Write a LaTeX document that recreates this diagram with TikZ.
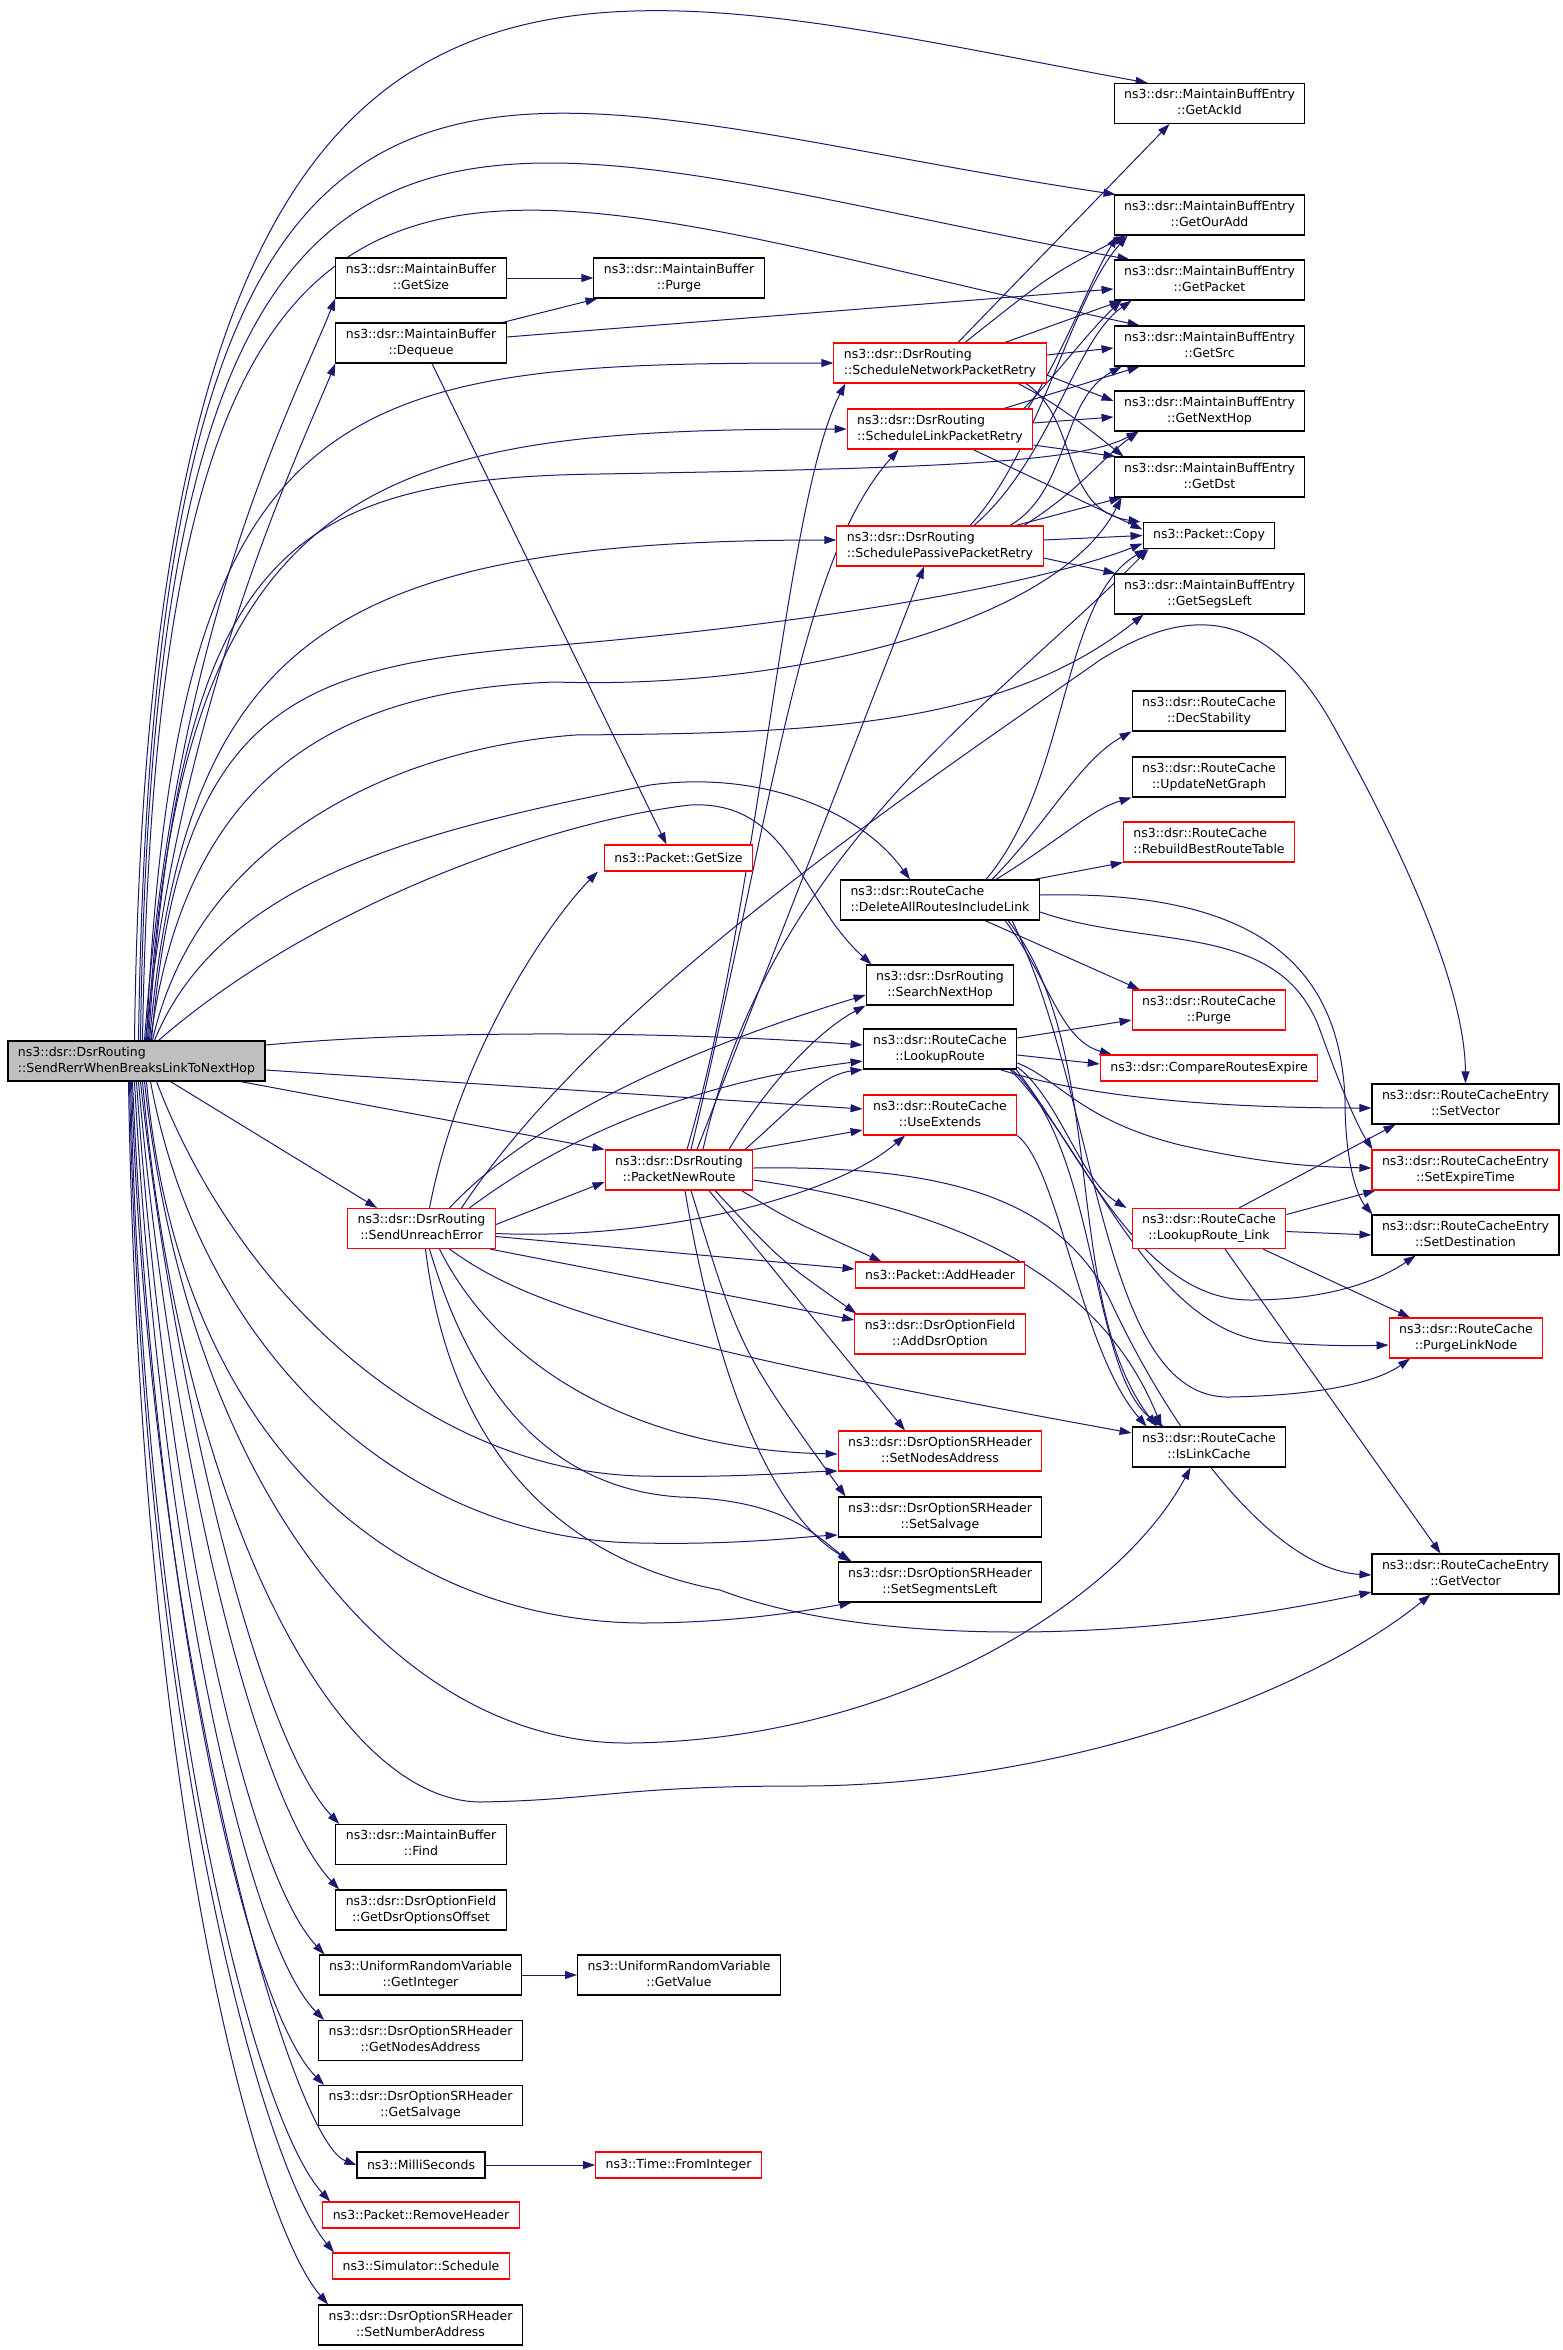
\documentclass[tikz,border=0pt]{standalone}
\usepackage{fontspec}
\setmainfont{DejaVu Sans}
\usepackage{tikz}
\usetikzlibrary{arrows.meta,backgrounds}
\definecolor{edgeblue}{RGB}{25,25,112}
\newcommand{\fnname}[2]{\begin{tabular}{@{}l@{}}#1\\\multicolumn{1}{@{}c@{}}{#2}\end{tabular}}
\tikzset{
  fn/.style={draw=black,fill=white,line width=1.1pt,inner xsep=10pt,inner ysep=4pt,
    minimum height=26pt,font=\fontsize{12.5}{16}\selectfont},
  fnred/.style={fn,draw=red},
  fnmain/.style={fn,fill=black!25},
  call/.style={draw=edgeblue,line width=1pt,-{Triangle[length=12pt,width=8pt]}}
}
\begin{document}
\begin{tikzpicture}[x=1pt,y=-1pt]
\useasboundingbox (0,0) rectangle (1563,2350);
% caller
\node[fnmain] (main) at (136.5,1061) {\fnname{ns3::dsr::DsrRouting}{::SendRerrWhenBreaksLinkToNextHop}};
% second column
\node[fn] (bGetSize) at (421,278) {\fnname{ns3::dsr::MaintainBuffer}{::GetSize}};
\node[fn] (bDequeue) at (421,343) {\fnname{ns3::dsr::MaintainBuffer}{::Dequeue}};
\node[fnred] (sendUnreach) at (421.5,1228.5) {\fnname{ns3::dsr::DsrRouting}{::SendUnreachError}};
\node[fn] (bFind) at (421,1844.5) {\fnname{ns3::dsr::MaintainBuffer}{::Find}};
\node[fn] (oGetOffset) at (421,1910) {\fnname{ns3::dsr::DsrOptionField}{::GetDsrOptionsOffset}};
\node[fn] (rGetInteger) at (420.5,1975) {\fnname{ns3::UniformRandomVariable}{::GetInteger}};
\node[fn] (hGetNodesAddress) at (420.5,2040.5) {\fnname{ns3::dsr::DsrOptionSRHeader}{::GetNodesAddress}};
\node[fn] (hGetSalvage) at (420.5,2105.5) {\fnname{ns3::dsr::DsrOptionSRHeader}{::GetSalvage}};
\node[fn] (milli) at (421,2165) {ns3::MilliSeconds};
\node[fnred] (removeHeader) at (421,2215) {ns3::Packet::RemoveHeader};
\node[fnred] (schedule) at (421,2266) {ns3::Simulator::Schedule};
\node[fn] (setNumberAddress) at (420.5,2325) {\fnname{ns3::dsr::DsrOptionSRHeader}{::SetNumberAddress}};
% third column
\node[fn] (bPurge) at (679,278) {\fnname{ns3::dsr::MaintainBuffer}{::Purge}};
\node[fnred] (pGetSize) at (678.5,858) {ns3::Packet::GetSize};
\node[fnred] (packetNewRoute) at (679,1170) {\fnname{ns3::dsr::DsrRouting}{::PacketNewRoute}};
\node[fn] (rGetValue) at (679,1975) {\fnname{ns3::UniformRandomVariable}{::GetValue}};
\node[fnred] (fromInt) at (678.5,2165) {ns3::Time::FromInteger};
% fourth column
\node[fnred] (schedNet) at (940,363) {\fnname{ns3::dsr::DsrRouting}{::ScheduleNetworkPacketRetry}};
\node[fnred] (schedLink) at (940,429) {\fnname{ns3::dsr::DsrRouting}{::ScheduleLinkPacketRetry}};
\node[fnred] (schedPassive) at (940,546) {\fnname{ns3::dsr::DsrRouting}{::SchedulePassivePacketRetry}};
\node[fn] (deleteAll) at (940,900) {\fnname{ns3::dsr::RouteCache}{::DeleteAllRoutesIncludeLink}};
\node[fn] (searchNext) at (940,985) {\fnname{ns3::dsr::DsrRouting}{::SearchNextHop}};
\node[fn] (lookupRoute) at (940,1049) {\fnname{ns3::dsr::RouteCache}{::LookupRoute}};
\node[fnred] (useExtends) at (940,1115) {\fnname{ns3::dsr::RouteCache}{::UseExtends}};
\node[fnred] (addHeader) at (940,1275) {ns3::Packet::AddHeader};
\node[fnred] (addDsrOption) at (940,1334) {\fnname{ns3::dsr::DsrOptionField}{::AddDsrOption}};
\node[fnred] (setNodesAddress) at (940,1451) {\fnname{ns3::dsr::DsrOptionSRHeader}{::SetNodesAddress}};
\node[fn] (setSalvage) at (940,1517) {\fnname{ns3::dsr::DsrOptionSRHeader}{::SetSalvage}};
\node[fn] (setSegmentsLeft) at (940,1582) {\fnname{ns3::dsr::DsrOptionSRHeader}{::SetSegmentsLeft}};
% fifth column
\node[fn] (getAckId) at (1209.5,103.5) {\fnname{ns3::dsr::MaintainBuffEntry}{::GetAckId}};
\node[fn] (getOurAdd) at (1209.5,215) {\fnname{ns3::dsr::MaintainBuffEntry}{::GetOurAdd}};
\node[fn] (getPacket) at (1209.5,280) {\fnname{ns3::dsr::MaintainBuffEntry}{::GetPacket}};
\node[fn] (getSrc) at (1209.5,346) {\fnname{ns3::dsr::MaintainBuffEntry}{::GetSrc}};
\node[fn] (getNextHop) at (1209.5,411) {\fnname{ns3::dsr::MaintainBuffEntry}{::GetNextHop}};
\node[fn] (getDst) at (1209.5,477) {\fnname{ns3::dsr::MaintainBuffEntry}{::GetDst}};
\node[fn] (copy) at (1209,535.5) {ns3::Packet::Copy};
\node[fn] (getSegsLeft) at (1209.5,594) {\fnname{ns3::dsr::MaintainBuffEntry}{::GetSegsLeft}};
\node[fn] (decStability) at (1209,711) {\fnname{ns3::dsr::RouteCache}{::DecStability}};
\node[fn] (updateNetGraph) at (1209,777) {\fnname{ns3::dsr::RouteCache}{::UpdateNetGraph}};
\node[fnred] (rebuild) at (1209,842) {\fnname{ns3::dsr::RouteCache}{::RebuildBestRouteTable}};
\node[fnred] (rcPurge) at (1209,1010) {\fnname{ns3::dsr::RouteCache}{::Purge}};
\node[fnred] (compare) at (1209,1068) {ns3::dsr::CompareRoutesExpire};
\node[fnred] (lookupLink) at (1209,1228.5) {\fnname{ns3::dsr::RouteCache}{::LookupRoute\_Link}};
\node[fn] (isLinkCache) at (1209,1447) {\fnname{ns3::dsr::RouteCache}{::IsLinkCache}};
% sixth column
\node[fn] (setVector) at (1465.5,1104) {\fnname{ns3::dsr::RouteCacheEntry}{::SetVector}};
\node[fnred] (setExpire) at (1465.5,1170) {\fnname{ns3::dsr::RouteCacheEntry}{::SetExpireTime}};
\node[fn] (setDest) at (1465.5,1235) {\fnname{ns3::dsr::RouteCacheEntry}{::SetDestination}};
\node[fnred] (purgeLinkNode) at (1466,1338) {\fnname{ns3::dsr::RouteCache}{::PurgeLinkNode}};
\node[fn] (getVector) at (1465.5,1574) {\fnname{ns3::dsr::RouteCacheEntry}{::GetVector}};

\begin{scope}[on background layer]
\fill[white] (0,0) rectangle (1563,2350);
% calls of the caller, upper fan
\draw[call] ([xshift=-2]main.north) .. controls (150,-180) and (560,-25) .. ([xshift=34]getAckId.north west);
\draw[call] ([xshift=2]main.north) .. controls (155,-120) and (480,100) .. ([xshift=2]getOurAdd.north west);
\draw[call] ([xshift=4]main.north) .. controls (155,-60) and (470,140) .. ([xshift=16]getPacket.north west);
\draw[call] ([xshift=6]main.north) .. controls (160,-10) and (460,180) .. ([xshift=26]getSrc.north west);
\draw[call] ([xshift=8]main.north) .. controls (175,620) and (295,400) .. (bGetSize.south west);
\draw[call] ([xshift=9]main.north) .. controls (180,700) and (300,450) .. (bDequeue.south west);
\draw[call] ([xshift=10]main.north) .. controls (175,380) and (350,363) .. (schedNet.west);
\draw[call] ([xshift=11]main.north) .. controls (180,470) and (380,429) .. (schedLink.west);
\draw[call] ([xshift=12]main.north) .. controls (180,560) and (280,478) .. (600,474) .. controls (950,468) and (1080,462) .. ([xshift=25]getNextHop.south west);
\draw[call] ([xshift=13]main.north) .. controls (185,640) and (330,540) .. ([yshift=6]schedPassive.west);
\draw[call] ([xshift=14]main.north) .. controls (185,780) and (330,690) .. (555,682) .. controls (800,690) and (1060,620) .. ([xshift=8]getDst.south west);
\draw[call] ([xshift=15]main.north) .. controls (180,700) and (300,665) .. (560,645) .. controls (850,620) and (1050,580) .. ([yshift=-8]copy.west);
\draw[call] ([xshift=16]main.north) .. controls (195,850) and (380,750) .. (575,735) .. controls (800,733) and (1000,730) .. ([xshift=30]getSegsLeft.south west);
\draw[call] ([xshift=18]main.north) .. controls (220,880) and (420,830) .. (650,785) .. controls (760,770) and (860,810) .. ([xshift=-30]deleteAll.north);
\draw[call] ([xshift=22]main.north) .. controls (320,900) and (560,820) .. (690,805) .. controls (790,800) and (800,900) .. ([xshift=6]searchNext.north west);
\draw[call] ([yshift=16]main.east) .. controls (450,1028) and (700,1033) .. ([yshift=4]lookupRoute.west);
\draw[call] ([yshift=-9]main.east) -- ([yshift=6]useExtends.west);
\draw[call] ([xshift=104]main.south) -- (packetNewRoute.north west);
\draw[call] ([xshift=34]main.south) -- ([xshift=30]sendUnreach.north west);
% calls of the caller, lower fan
\draw[call] ([xshift=20]main.south) .. controls (240,1300) and (430,1470) .. (640,1476) .. controls (740,1478) and (800,1472) .. ([yshift=-20]setNodesAddress.west);
\draw[call] ([xshift=14]main.south) .. controls (200,1350) and (400,1540) .. (640,1543) .. controls (740,1545) and (800,1537) .. ([yshift=-18]setSalvage.west);
\draw[call] ([xshift=10]main.south) .. controls (180,1450) and (400,1620) .. (640,1623) .. controls (730,1623) and (800,1612) .. ([xshift=14]setSegmentsLeft.south west);
\draw[call] ([xshift=8]main.south) .. controls (190,1500) and (400,1745) .. (630,1743) .. controls (900,1740) and (1120,1600) .. ([xshift=59]isLinkCache.south west);
\draw[call] ([xshift=6]main.south) .. controls (180,1500) and (330,1800) .. (480,1802) .. controls (600,1800) and (620,1786) .. (800,1786) .. controls (1050,1786) and (1300,1700) .. ([xshift=-35]getVector.south);
\draw[call] ([xshift=4]main.south) .. controls (175,1400) and (260,1740) .. ([xshift=4]bFind.north west);
\draw[call] ([xshift=2]main.south) .. controls (170,1450) and (255,1800) .. ([xshift=4]oGetOffset.north west);
\draw[call] (main.south) .. controls (165,1500) and (245,1870) .. ([xshift=6]rGetInteger.north west);
\draw[call] ([xshift=-2]main.south) .. controls (160,1550) and (245,1940) .. ([xshift=6]hGetNodesAddress.north west);
\draw[call] ([xshift=-4]main.south) .. controls (155,1600) and (245,2005) .. ([xshift=6]hGetSalvage.north west);
\draw[call] ([xshift=-5]main.south) .. controls (150,1650) and (290,2140) .. (milli.west);
\draw[call] ([xshift=-6]main.south) .. controls (145,1700) and (255,2120) .. ([xshift=8]removeHeader.north west);
\draw[call] ([xshift=-7]main.south) .. controls (143,1750) and (265,2170) .. ([xshift=2]schedule.north west);
\draw[call] ([xshift=-8]main.south) .. controls (140,1800) and (255,2220) .. ([xshift=10]setNumberAddress.north west);
% buffer and helpers
\draw[call] (bGetSize) -- (bPurge);
\draw[call] (bDequeue) -- (bPurge);
\draw[call] ([yshift=6]bDequeue.east) -- ([yshift=-9]getPacket.west);
\draw[call] ([xshift=11]bDequeue.south) -- ([xshift=-12]pGetSize.north);
\draw[call] (rGetInteger) -- (rGetValue);
\draw[call] (milli) -- (fromInt);
% retry schedulers
\draw[call] ([xshift=18]schedNet.north) -- ([xshift=-40]getAckId.south);
\draw[call] ([xshift=25]schedNet.north) .. controls (1050,275) .. ([xshift=12]getOurAdd.south west);
\draw[call] ([xshift=65]schedNet.north) -- ([xshift=8]getPacket.south west);
\draw[call] ([yshift=8]schedNet.east) -- ([yshift=-2]getSrc.west);
\draw[call] ([yshift=-12]schedNet.east) -- ([yshift=10]getNextHop.west);
\draw[call] ([xshift=78]schedNet.south) .. controls (1060,405) and (1090,430) .. ([xshift=10]getDst.north west);
\draw[call] ([xshift=86]schedNet.south) .. controls (1080,420) and (1060,510) .. ([xshift=-2]copy.north west);
\draw[call] ([xshift=88]schedLink.north) .. controls (1070,340) and (1090,280) .. ([xshift=4]getOurAdd.south west);
\draw[call] ([xshift=84]schedLink.north) .. controls (1060,370) and (1090,330) .. ([xshift=8]getPacket.south west);
\draw[call] ([xshift=64]schedLink.north) -- ([xshift=26]getSrc.south west);
\draw[call] ([yshift=6]schedLink.east) -- ([yshift=-6]getNextHop.west);
\draw[call] ([yshift=-16]schedLink.east) -- ([xshift=2]getDst.north west);
\draw[call] ([xshift=33]schedLink.south) -- ([yshift=6]copy.west);
\draw[call] ([xshift=30]schedPassive.north) .. controls (1040,450) and (1070,300) .. ([xshift=14]getOurAdd.south west);
\draw[call] ([xshift=34]schedPassive.north) .. controls (1050,460) and (1075,340) .. ([xshift=18]getPacket.south west);
\draw[call] ([xshift=70]schedPassive.north) .. controls (1070,490) and (1060,400) .. ([xshift=8]getSrc.south west);
\draw[call] ([xshift=84]schedPassive.north) .. controls (1080,490) and (1100,460) .. ([xshift=25]getNextHop.south west);
\draw[call] ([xshift=76]schedPassive.north) -- ([xshift=8]getDst.south west);
\draw[call] ([yshift=6]schedPassive.east) -- (copy.west);
\draw[call] ([yshift=-12]schedPassive.east) -- ([xshift=2]getSegsLeft.north west);
% new route
\draw[call] ([xshift=8]packetNewRoute.north) .. controls (760,900) and (785,500) .. ([xshift=12]schedNet.south west);
\draw[call] ([xshift=12]packetNewRoute.north) .. controls (775,800) and (800,560) .. ([xshift=52]schedLink.south west);
\draw[call] ([xshift=18]packetNewRoute.north) -- ([xshift=-16]schedPassive.south);
\draw[call] ([xshift=24]packetNewRoute.north) .. controls (770,850) and (1000,700) .. ([xshift=6]copy.south west);
\draw[call] ([xshift=50]packetNewRoute.north) .. controls (770,1080) and (820,1030) .. (searchNext.south west);
\draw[call] ([xshift=66]packetNewRoute.north) .. controls (790,1110) and (820,1075) .. (lookupRoute.south west);
\draw[call] (packetNewRoute.north east) -- ([yshift=-15]useExtends.west);
\draw[call] ([yshift=2]packetNewRoute.east) .. controls (950,1165) and (1060,1200) .. (1110,1300) .. controls (1180,1450) and (1280,1570) .. ([yshift=-1]getVector.west);
\draw[call] ([yshift=-10]packetNewRoute.east) .. controls (1000,1215) and (1110,1300) .. ([xshift=30]isLinkCache.north west);
\draw[call] ([xshift=-12]packetNewRoute.south east) .. controls (790,1220) .. ([xshift=27]addHeader.north west);
\draw[call] ([xshift=36]packetNewRoute.south) .. controls (780,1260) .. ([xshift=2]addDsrOption.north west);
\draw[call] ([xshift=30]packetNewRoute.south) -- ([xshift=-35]setNodesAddress.north);
\draw[call] ([xshift=12]packetNewRoute.south) .. controls (740,1350) .. ([xshift=8]setSalvage.north west);
\draw[call] ([xshift=6]packetNewRoute.south) .. controls (720,1400) and (780,1520) .. ([xshift=14]setSegmentsLeft.north west);
% unreach error
\draw[call] ([xshift=8]sendUnreach.north) .. controls (460,1050) and (550,920) .. ([xshift=-6]pGetSize.south west);
\draw[call] ([xshift=28]sendUnreach.north) .. controls (550,1100) and (750,1030) .. ([yshift=-10]searchNext.west);
\draw[call] ([xshift=48]sendUnreach.north) .. controls (600,1110) and (750,1075) .. ([yshift=-12]lookupRoute.west);
\draw[call] ([yshift=4]sendUnreach.east) -- ([yshift=-12]packetNewRoute.west);
\draw[call] ([yshift=-5]sendUnreach.east) .. controls (650,1240) and (830,1200) .. ([xshift=-35]useExtends.south);
\draw[call] ([xshift=40]sendUnreach.north) .. controls (600,1000) and (900,800) .. (1100,660) .. controls (1180,610) and (1260,600) .. (1330,720) .. controls (1420,880) and (1465,1000) .. (setVector.north);
\draw[call] ([yshift=-8]sendUnreach.east) -- ([yshift=6]addHeader.west);
\draw[call] ([xshift=-6]sendUnreach.south east) -- ([yshift=14]addDsrOption.west);
\draw[call] ([xshift=28]sendUnreach.south) .. controls (520,1300) and (620,1340) .. ([yshift=14]isLinkCache.west);
\draw[call] ([xshift=18]sendUnreach.south) .. controls (500,1370) and (640,1450) .. ([yshift=-3]setNodesAddress.west);
\draw[call] ([xshift=8]sendUnreach.south) .. controls (480,1420) and (570,1490) .. (680,1497) .. controls (780,1500) and (810,1530) .. ([xshift=12]setSegmentsLeft.north west);
\draw[call] ([xshift=4]sendUnreach.south) .. controls (450,1450) and (560,1560) .. (720,1590) .. controls (850,1640) and (1100,1650) .. ([yshift=-18]getVector.west);
% route cache
\draw[call] ([xshift=52]deleteAll.north) .. controls (1050,820) and (1080,760) .. (decStability.south west);
\draw[call] ([xshift=56]deleteAll.north) .. controls (1060,840) and (1090,810) .. (updateNetGraph.south west);
\draw[call] ([xshift=-6]deleteAll.north east) -- (rebuild.south west);
\draw[call] ([xshift=46]deleteAll.north) .. controls (1070,780) and (1060,600) .. ([xshift=4]copy.south west);
\draw[call] ([yshift=5]deleteAll.east) .. controls (1250,890) and (1340,960) .. (1345,1100) .. controls (1345,1170) and (1360,1200) .. ([xshift=-93]setDest.north);
\draw[call] ([yshift=-12]deleteAll.east) .. controls (1150,950) and (1280,920) .. (1320,1030) .. controls (1345,1100) and (1360,1130) .. ([xshift=-93]setExpire.north);
\draw[call] ([xshift=45]deleteAll.south) -- ([xshift=8]rcPurge.north west);
\draw[call] ([xshift=65]deleteAll.south) .. controls (1050,980) and (1060,1040) .. ([xshift=12]compare.north west);
\draw[call] ([xshift=68]deleteAll.south) .. controls (1110,1050) and (1060,1300) .. ([xshift=25]isLinkCache.north west);
\draw[call] ([xshift=72]deleteAll.south) .. controls (1100,1100) and (1100,1400) .. (1230,1397) .. controls (1330,1395) and (1380,1380) .. ([xshift=-56]purgeLinkNode.south);
\draw[call] ([yshift=11]lookupRoute.east) -- ([yshift=-10]rcPurge.west);
\draw[call] ([yshift=-6]lookupRoute.east) -- ([yshift=4]compare.west);
\draw[call] ([xshift=60]lookupRoute.south) .. controls (1080,1095) and (1200,1108) .. ([yshift=-4]setVector.west);
\draw[call] ([yshift=-14]lookupRoute.east) .. controls (1060,1080) and (1080,1120) .. (1180,1145) .. controls (1270,1165) and (1320,1167) .. ([yshift=2]setExpire.west);
\draw[call] ([yshift=-18]lookupRoute.east) .. controls (1060,1100) and (1080,1180) .. ([xshift=-5]lookupLink.north west);
\draw[call] ([xshift=72]lookupRoute.south) .. controls (1100,1150) and (1090,1380) .. ([xshift=32]isLinkCache.north west);
\draw[call] ([xshift=76]lookupRoute.south) .. controls (1080,1150) and (1140,1300) .. (1250,1300) .. controls (1330,1300) and (1380,1280) .. ([xshift=-50]setDest.south);
\draw[call] ([xshift=70]lookupRoute.south) .. controls (1090,1150) and (1150,1330) .. (1270,1342) .. controls (1320,1346) and (1360,1346) .. ([yshift=-7]purgeLinkNode.west);
\draw[call] (useExtends.south east) .. controls (1060,1170) and (1080,1350) .. ([xshift=15]isLinkCache.north west);
\draw[call] ([xshift=30]lookupLink.north) -- ([xshift=-70]setVector.south);
\draw[call] ([yshift=14]lookupLink.east) -- ([xshift=4]setExpire.south west);
\draw[call] ([yshift=-3]lookupLink.east) -- (setDest.west);
\draw[call] ([xshift=54]lookupLink.south) -- ([xshift=-56]purgeLinkNode.north);
\draw[call] ([xshift=16]lookupLink.south) -- ([xshift=-25]getVector.north);
\end{scope}
\end{tikzpicture}
\end{document}
